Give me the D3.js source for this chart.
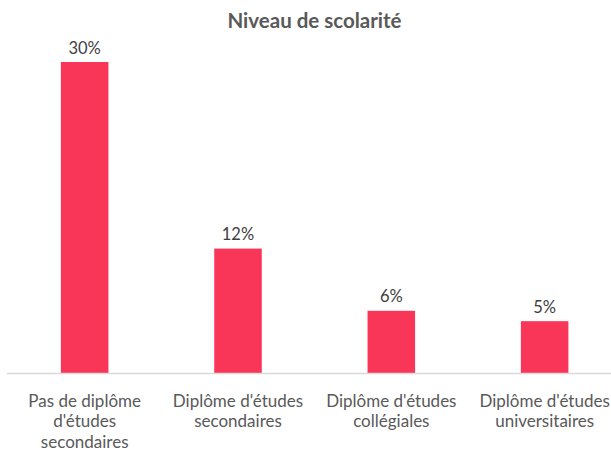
<!DOCTYPE html>
<html>
<head>
<meta charset="utf-8">
<script src="https://cdn.jsdelivr.net/npm/d3@7"></script>
<style>
  html, body { margin: 0; padding: 0; background: #fff; }
  svg { display: block; }
  text { font-family: "Lato", "Open Sans", sans-serif; }
</style>
</head>
<body>
<svg id="chart" width="611" height="450"></svg>
<script>
const title = "Niveau de scolarité";
const categories = [
  "Pas de diplôme d'études secondaires",
  "Diplôme d'études secondaires",
  "Diplôme d'études collégiales",
  "Diplôme d'études universitaires"
];
const values = [0.30, 0.12, 0.06, 0.05];

const W = 611, H = 450;
const svg = d3.select("#chart");
const baseY = 373, topY = 62;

const x = d3.scaleBand().domain(categories).range([8, 621.3]).paddingInner(0.69).paddingOuter(0.345);
const y = d3.scaleLinear().domain([0, 0.30]).range([baseY, topY]);

svg.append("text")
  .attr("x", 314.5).attr("y", 28)
  .attr("text-anchor", "middle")
  .attr("font-weight", "bold")
  .attr("font-size", 20.5)
  .attr("fill", "#595959")
  .text(title);

svg.selectAll("rect.bar").data(values).join("rect")
  .attr("class", "bar")
  .attr("x", (d, i) => x(categories[i]))
  .attr("width", x.bandwidth())
  .attr("y", d => y(d))
  .attr("height", d => baseY - y(d))
  .attr("fill", "#F93558");

svg.selectAll("text.lbl").data(values).join("text")
  .attr("class", "lbl")
  .attr("x", (d, i) => x(categories[i]) + x.bandwidth() / 2)
  .attr("y", d => y(d) - 8.5)
  .attr("text-anchor", "middle")
  .attr("font-size", 16.5)
  .attr("fill", "#404040")
  .text(d => d3.format(".0%")(d));

// axis
const axis = d3.axisBottom(x).tickSize(0).tickPadding(0);
const gAxis = svg.append("g").attr("transform", `translate(0,${baseY})`).call(axis);
gAxis.select(".domain").remove();
svg.append("line")
  .attr("x1", 7).attr("x2", 611).attr("y1", baseY + 0.5).attr("y2", baseY + 0.5)
  .attr("stroke", "#D9D9D9").attr("stroke-width", 1.3);

gAxis.selectAll(".tick text").each(function (d) {
  const t = d3.select(this);
  t.text(null).attr("font-size", 17).attr("fill", "#595959")
    .attr("font-family", "Lato, 'Open Sans', sans-serif").attr("y", 0).attr("dy", null);
  const words = d.split(" ");
  const maxW = 145;
  let lines = [], cur = [];
  const probe = t.append("tspan");
  for (const w of words) {
    const test = cur.concat(w).join(" ");
    probe.text(test);
    if (probe.node().getComputedTextLength() > maxW && cur.length) {
      lines.push(cur.join(" "));
      cur = [w];
    } else cur.push(w);
  }
  lines.push(cur.join(" "));
  probe.remove();
  lines.forEach((ln, i) => {
    t.append("tspan").attr("x", 0).attr("y", 33.5 + i * 20.5).text(ln);
  });
});
</script>
</body>
</html>
